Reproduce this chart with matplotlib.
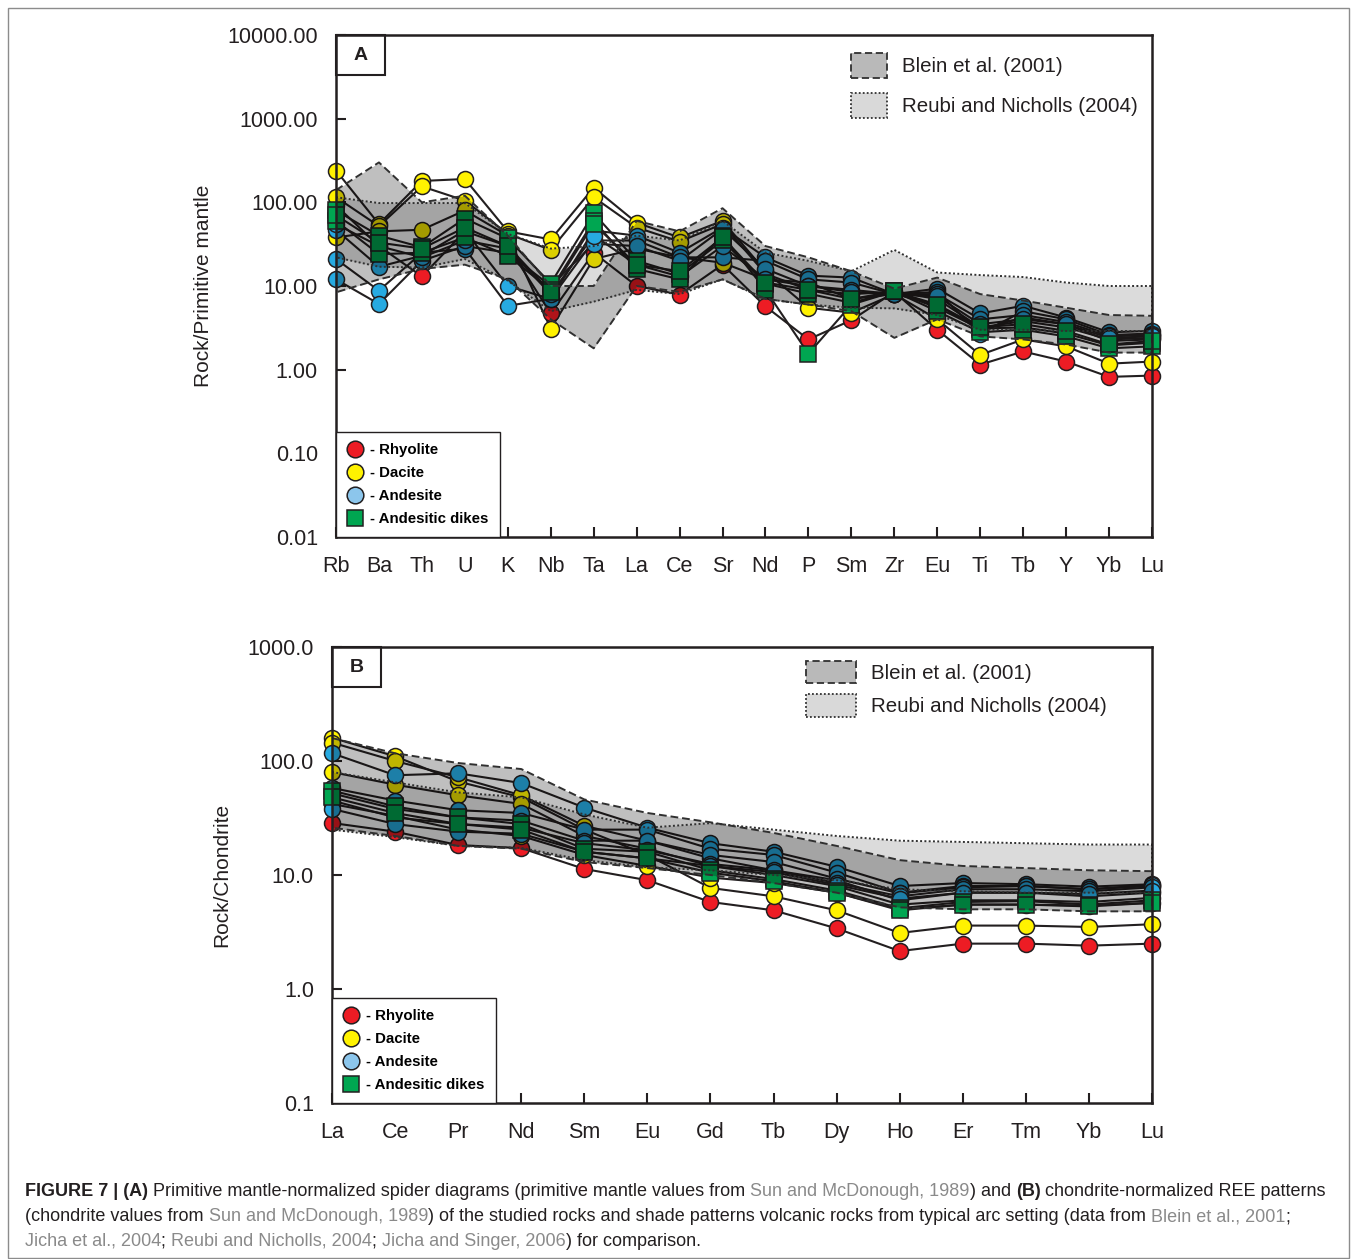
import matplotlib
matplotlib.use("Agg")
import matplotlib.pyplot as plt
from matplotlib.lines import Line2D
from matplotlib.patches import Patch, Rectangle
from matplotlib.ticker import NullLocator
import numpy as np

plt.rcParams['font.family'] = ['Liberation Sans', 'DejaVu Sans']

# ---------------- data: panel A (primitive mantle normalised) ----------------
pm_elements = ['Rb', 'Ba', 'Th', 'U', 'K', 'Nb', 'Ta', 'La', 'Ce', 'Sr',
               'Nd', 'P', 'Sm', 'Zr', 'Eu', 'Ti', 'Tb', 'Y', 'Yb', 'Lu']

pm_rhyolite = [
    [92, 30, 13, 45, 30, 4.7, 25, 10, 7.9, 18, 5.7, 2.3, 3.9, 8.5, 3.0, 1.15, 1.65, 1.25, 0.82, 0.85],
]
pm_dacite = [
    [240, 55, 180, 190, 45, 36, 150, 57, 38, 60, 15, 5.5, 4.8, 8.0, 4.0, 1.5, 2.3, 1.9, 1.18, 1.25],
    [115, 52, 155, 105, 42, 27, 115, 50, 34, 55, 14, 9.0, 8.0, 8.5, 7.0, 3.2, 3.8, 3.2, 2.3, 2.4],
    [38, 45, 47, 80, 40, 3.1, 21, 28, 22, 19, 12, 11, 7.0, 8.0, 6.0, 3.0, 4.2, 3.5, 2.2, 2.3],
]
pm_andesite = [
    [47, 17, 23, 46, 10, 7.0, 46, 40, 25, 50, 22, 13.3, 12.6, 8.0, 9.3, 4.7, 5.8, 4.2, 2.8, 2.9],
    [21, 8.8, 25, 28, 5.8, 7.0, 35, 35, 22, 22, 20, 12, 11, 8.0, 8.5, 2.7, 5.0, 4.0, 2.6, 2.7],
    [12, 6.1, 20, 30, 25, 10, 32, 30, 20, 48, 16, 10, 9.0, 8.0, 8.0, 4.0, 4.5, 3.7, 2.5, 2.6],
    [55, 30, 22, 35, 28, 8.0, 40, 18, 13, 30, 12, 10, 8.5, 8.0, 7.5, 3.5, 4.0, 3.5, 2.4, 2.5],
]
pm_dikes = [
    [80, 40, 29, 64, 37, 10.7, 74, 20, 14, 35, 10.7, 8.1, 6.3, 8.6, 5.5, 3.1, 3.2, 2.7, 1.95, 2.1],
    [60, 24, 25, 38, 23, 9.0, 60, 16, 12, 40, 9.0, 1.55, 6.0, 8.6, 5.0, 2.8, 3.0, 2.5, 1.8, 1.9],
    [70, 33, 28, 50, 30, 8.5, 55, 18, 15, 38, 11, 9.0, 7.0, 8.6, 6.0, 3.2, 3.5, 2.9, 2.0, 2.2],
]
pm_blein_upper = [140, 300, 100, 120, 40, 10, 10, 60, 45, 85, 30, 22, 15, 9.3, 12.6, 8, 6.7, 5.5, 4.5, 4.4]
pm_blein_lower = [8.4, 12, 16, 18, 12, 4.0, 1.8, 10, 8.5, 12, 7, 6, 5, 2.4, 4, 2.5, 2.3, 2.0, 1.6, 1.6]
pm_reubi_upper = [115, 98, 98, 98, 42, 28, 30, 40, 35, 60, 25, 20, 15, 27, 14.5, 13.5, 12.8, 11, 10, 10]
pm_reubi_lower = [22, 17, 16.6, 21, 11.6, 5.0, 6.5, 9, 8, 12, 7, 6, 5.5, 5.4, 4.5, 3.0, 3.0, 2.9, 2.9, 2.9]

# ---------------- data: panel B (chondrite normalised REE) ----------------
ree_elements = ['La', 'Ce', 'Pr', 'Nd', 'Sm', 'Eu', 'Gd', 'Tb', 'Dy', 'Ho', 'Er', 'Tm', 'Yb', 'Lu']

ree_rhyolite = [
    [28.6, 24, 18.3, 17.2, 11.3, 9.0, 5.8, 4.9, 3.4, 2.15, 2.5, 2.5, 2.4, 2.5],
]
ree_dacite = [
    [160, 110, 66, 48, 25, 15, 7.7, 6.5, 4.9, 3.1, 3.6, 3.6, 3.5, 3.7],
    [145, 100, 72, 50, 27, 20, 14, 11, 9.0, 6.0, 7.0, 7.0, 6.5, 7.0],
    [80, 62, 50, 42, 22, 17, 12, 10, 8.0, 5.5, 6.0, 6.0, 5.8, 6.3],
    [42, 33, 25, 22, 15, 12, 9.5, 8.5, 7.0, 5.0, 5.5, 5.5, 5.4, 5.7],
]
ree_andesite = [
    [117, 75, 78, 64, 39, 26, 19, 16, 11.8, 8.0, 8.5, 8.3, 7.9, 8.3],
    [58, 45, 37, 35, 25, 25, 17, 15, 10.5, 7.0, 8.0, 8.0, 7.5, 8.0],
    [52, 38, 32, 30, 20, 20, 15, 13, 9.3, 6.9, 7.8, 8.0, 7.5, 8.2],
    [45, 32, 28, 26, 19, 16.5, 12.5, 11, 8.5, 6.5, 7.5, 7.5, 7.2, 7.8],
    [38, 28, 24, 23, 16, 14, 12, 10.6, 8.2, 6.2, 7.0, 7.0, 6.8, 7.3],
]
ree_dikes = [
    [55, 40, 32, 28, 17, 16, 11, 9.2, 7.3, 5.1, 5.8, 5.9, 5.5, 6.0],
    [48, 35, 28, 25, 16, 14, 10.5, 8.8, 7.0, 4.9, 5.5, 5.5, 5.3, 5.7],
]
ree_blein_upper = [159, 117, 96, 85, 46, 35, 29, 23.4, 18, 13.5, 12, 11.5, 11, 10.8]
ree_blein_lower = [26, 22, 18, 17, 13, 11.5, 10, 8.5, 7, 5.2, 5.0, 5.0, 4.8, 4.8]
ree_reubi_upper = [80, 65, 53, 48, 34, 26, 28.5, 25, 22, 20, 19.5, 19, 18.5, 18.5]
ree_reubi_lower = [25, 21.5, 18, 17.3, 13.5, 11.7, 11, 10, 9, 7.5, 7.2, 7, 7, 7]

rock_types = ['Rhyolite', 'Dacite', 'Andesite', 'Andesitic dikes']
rock_colors = {'Rhyolite': '#ed1c24', 'Dacite': '#fff200',
               'Andesite': '#27aae1', 'Andesitic dikes': '#00a651'}
legend_colors = {'Rhyolite': '#ed1c24', 'Dacite': '#fff200',
                 'Andesite': '#8cc6ec', 'Andesitic dikes': '#00a651'}
rock_markers = {'Rhyolite': 'o', 'Dacite': 'o', 'Andesite': 'o', 'Andesitic dikes': 's'}
ink = '#231f20'

W, H = 1357, 1259
fig = plt.figure(figsize=(W / 100, H / 100), dpi=100)


def draw_panel(ax, elements, groups, blein, reubi, yticks, ylabels, ylabel,
               letter, leg_anchor, hl, hh, lsp, ypad):
    x = np.arange(len(elements))
    for rock, rows in groups:
        for row in rows:
            ax.plot(x, row, color=ink, lw=1.5, zorder=2, clip_on=False)
    for rock, rows in groups:
        for row in rows:
            ax.plot(x, row, ls='none', marker=rock_markers[rock],
                    ms=11.5 if rock_markers[rock] == 'o' else 11,
                    mfc=rock_colors[rock], mec=ink, mew=1.1, zorder=3, clip_on=False)
    # comparison fields drawn over the samples, semi transparent
    for (up, lo), alpha, ls in [(blein, 0.25, (0, (4, 2))), (reubi, 0.14, (0, (1, 1.2)))]:
        ax.fill_between(x, lo, up, color='black', alpha=alpha, lw=0, zorder=4)
        ax.plot(np.r_[x, x[::-1], x[:1]], np.r_[up, lo[::-1], up[:1]],
                color='#303030', lw=1.4, ls=ls, zorder=5)

    ax.set_yscale('log')
    ax.set_ylim(yticks[0], yticks[-1])
    ax.set_yticks(yticks)
    ax.set_yticklabels(ylabels)
    ax.yaxis.set_minor_locator(NullLocator())
    ax.set_xlim(0, len(elements) - 1)
    ax.set_xticks(x)
    ax.set_xticklabels(elements)
    ax.tick_params(direction='in', length=7, width=1.5, labelsize=15.5, color=ink, labelcolor=ink)
    ax.tick_params(axis='x', pad=14)
    ax.tick_params(axis='y', pad=13)
    for s in ax.spines.values():
        s.set_linewidth(1.8)
        s.set_color(ink)
        s.set_zorder(6)
    ax.set_ylabel(ylabel, fontsize=15, color=ink, labelpad=ypad)

    # panel letter box
    ax.add_patch(Rectangle((0, 1), 49 / ax.bbox.width, -40 / ax.bbox.height,
                           transform=ax.transAxes, fill=False, lw=1.5, ec=ink, zorder=7, clip_on=False))
    ax.text(24.5 / ax.bbox.width, 1 - 20 / ax.bbox.height, letter, transform=ax.transAxes,
            ha='center', va='center', fontsize=14, weight='bold', color=ink, zorder=8)

    # rock type legend
    handles = [Line2D([0], [0], ls='none', marker=rock_markers[r], ms=12 if r != 'Andesitic dikes' else 11,
                      mfc=legend_colors[r], mec=ink, mew=1.1) for r in rock_types]
    leg1 = ax.legend(handles, ['- ' + r for r in rock_types], loc='lower left',
                     borderaxespad=0, prop={'weight': 'bold', 'size': 10.8},
                     handlelength=1.0, handletextpad=0.55, labelspacing=0.6, borderpad=0.75,
                     frameon=True, fancybox=False, framealpha=1, edgecolor=ink)
    leg1.get_frame().set_linewidth(1.0)
    leg1.set_zorder(9)
    ax.add_artist(leg1)

    # comparison field legend
    ph = [Patch(facecolor='#b9b9b9', edgecolor='#303030', lw=1.3, ls=(0, (4, 2))),
          Patch(facecolor='#d9d9d9', edgecolor='#303030', lw=1.3, ls=(0, (1, 1.2)))]
    leg2 = ax.legend(ph, ['Blein et al. (2001)', 'Reubi and Nicholls (2004)'],
                     loc='upper right', bbox_to_anchor=leg_anchor, frameon=False,
                     fontsize=14.8, handlelength=hl, handleheight=hh, handletextpad=0.75,
                     labelspacing=lsp, borderaxespad=0, borderpad=0)
    for t in leg2.get_texts():
        t.set_color(ink)


axA = fig.add_axes([336 / W, 1 - 537 / H, 816 / W, 502 / H])
draw_panel(axA, pm_elements,
           [('Rhyolite', pm_rhyolite), ('Dacite', pm_dacite),
            ('Andesite', pm_andesite), ('Andesitic dikes', pm_dikes)],
           (np.array(pm_blein_upper), np.array(pm_blein_lower)),
           (np.array(pm_reubi_upper), np.array(pm_reubi_lower)),
           [0.01, 0.1, 1, 10, 100, 1000, 10000],
           ['0.01', '0.10', '1.00', '10.00', '100.00', '1000.00', '10000.00'],
           'Rock/Primitive mantle', 'A', (0.983, 0.965), 1.75, 1.55, 0.7, 10)

axB = fig.add_axes([332 / W, 1 - 1103 / H, 820 / W, 456 / H])
draw_panel(axB, ree_elements,
           [('Rhyolite', ree_rhyolite), ('Dacite', ree_dacite),
            ('Andesite', ree_andesite), ('Andesitic dikes', ree_dikes)],
           (np.array(ree_blein_upper), np.array(ree_blein_lower)),
           (np.array(ree_reubi_upper), np.array(ree_reubi_lower)),
           [0.1, 1, 10, 100, 1000],
           ['0.1', '1.0', '10.0', '100.0', '1000.0'],
           'Rock/Chondrite', 'B', (0.945, 0.97), 2.4, 1.3, 0.55, 12)

# ---------------- caption ----------------
grey = '#8a8a8a'
caption = [
    [("FIGURE 7 | (A)", 'bold', ink),
     (" Primitive mantle-normalized spider diagrams (primitive mantle values from ", 'normal', ink),
     ("Sun and McDonough, 1989", 'normal', grey), (") and ", 'normal', ink),
     ("(B)", 'bold', ink), (" chondrite-normalized REE patterns", 'normal', ink)],
    [("(chondrite values from ", 'normal', ink), ("Sun and McDonough, 1989", 'normal', grey),
     (") of the studied rocks and shade patterns volcanic rocks from typical arc setting (data from ", 'normal', ink),
     ("Blein et al., 2001", 'normal', grey), (";", 'normal', ink)],
    [("Jicha et al., 2004", 'normal', grey), ("; ", 'normal', ink),
     ("Reubi and Nicholls, 2004", 'normal', grey), ("; ", 'normal', ink),
     ("Jicha and Singer, 2006", 'normal', grey), (") for comparison.", 'normal', ink)],
]
renderer = fig.canvas.get_renderer()


def seg_width(s, weight, size):
    t1 = fig.text(0, 0, 'x' + s + 'x', fontsize=size, weight=weight)
    t2 = fig.text(0, 0, 'xx', fontsize=size, weight=weight)
    w = t1.get_window_extent(renderer).width - t2.get_window_extent(renderer).width
    t1.remove()
    t2.remove()
    return w


cap_size = 12.0
first = sum(seg_width(s, w, cap_size) for s, w, c in caption[0])
cap_size = cap_size * 1302 / first

for i, line in enumerate(caption):
    xpx = 25
    ypx = 1196 + 25 * i
    for s, w, c in line:
        fig.text(xpx / W, 1 - ypx / H, s, fontsize=cap_size, weight=w, color=c, va='baseline', ha='left')
        xpx += seg_width(s, w, cap_size)

fig.add_artist(Rectangle((8 / W, 1 / H), 1341 / W, 1250 / H, transform=fig.transFigure,
                         fill=False, ec='#8c8c8c', lw=1))

fig.savefig('out.png', dpi=100)
